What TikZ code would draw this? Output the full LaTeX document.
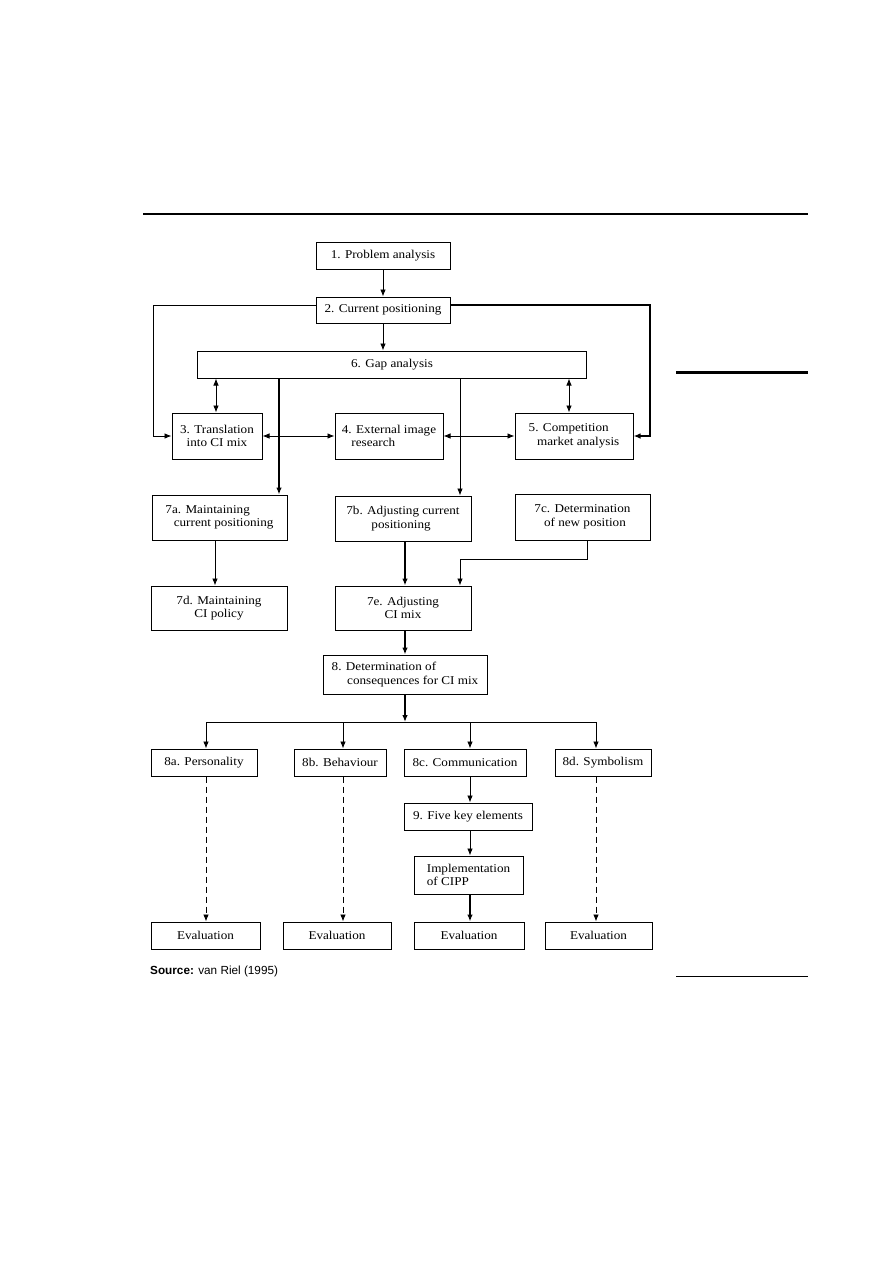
\documentclass[tikz,border=0pt]{standalone}
\usepackage{fontspec}
\setmainfont[FakeStretch=1.1]{Liberation Serif}
\newfontfamily\srcfont{Liberation Sans}
\usetikzlibrary{arrows.meta}
\begin{document}
\begin{tikzpicture}[x=1bp,y=-1bp,
 box/.style={draw, line width=1bp, inner sep=0pt, font=\fontsize{12}{13.5}\selectfont},
 arr/.style={line width=0.8bp, -{Latex[length=7bp,width=5.5bp]}},
 darr/.style={line width=0.8bp, {Latex[length=7bp,width=5.5bp]}-{Latex[length=7bp,width=5.5bp]}},
 dsh/.style={arr, dash pattern=on 6bp off 4bp},
 ln/.style={line width=0.8bp},
 thk/.style={line width=1.3bp}]
\fill[white] (0,0) rectangle (893,1263);
\useasboundingbox (0,0) rectangle (893,1263);

% page rules
\draw[line width=1.2bp] (143,214) -- (808,214);
\draw[line width=3bp] (676,372) -- (808,372);
\draw[line width=0.8bp] (676,976) -- (808,976);

% boxes
\node[box, minimum width=134bp, minimum height=27bp] (b1) at (383,255.5) {1. Problem analysis};
\node[box, minimum width=134bp, minimum height=26bp] (b2) at (383,310) {2. Current positioning};
\node[box, minimum width=388bp, minimum height=27bp] (b6) at (392,364.5) {6. Gap analysis};
\node[box, minimum width=90bp, minimum height=46bp, align=center] (b3) at (217,436) {3. Translation\\ into CI mix};
\node[box, minimum width=108bp, minimum height=46bp, align=left] (b4) at (389,436) {4. External image\\\hspace*{0.8em}research};
\node[box, minimum width=118bp, minimum height=46bp, align=left] (b5) at (574,436) {5. Competition\\\hspace*{0.7em}market analysis};
\node[box, minimum width=135bp, minimum height=45bp, align=left] (b7a) at (219.5,517.5) {7a. Maintaining\\\hspace*{0.7em}current positioning};
\node[box, minimum width=136bp, minimum height=45bp, align=left] (b7b) at (403,518.5) {7b. Adjusting current\\\hspace*{2.1em}positioning};
\node[box, minimum width=135bp, minimum height=46bp, align=left] (b7c) at (582.5,517) {7c. Determination\\\hspace*{0.8em}of new position};
\node[box, minimum width=136bp, minimum height=44bp, align=center] (b7d) at (219,608) {7d. Maintaining\\ CI policy};
\node[box, minimum width=136bp, minimum height=44bp, align=center] (b7e) at (403,608) {7e. Adjusting\\ CI mix};
\node[box, minimum width=164bp, minimum height=39bp, align=left] (b8) at (405,674.5) {8. Determination of\\\hspace*{1.3em}consequences for CI mix};
\node[box, minimum width=106bp, minimum height=27bp] (b8a) at (204,762.5) {8a. Personality};
\node[box, minimum width=92bp, minimum height=27bp] (b8b) at (340,762.5) {8b. Behaviour};
\node[box, minimum width=122bp, minimum height=27bp] (b8c) at (465,762.5) {8c. Communication};
\node[box, minimum width=96bp, minimum height=27bp] (b8d) at (603,762.5) {8d. Symbolism};
\node[box, minimum width=128bp, minimum height=27bp] (b9) at (468,816.5) {9. Five key elements};
\node[box, minimum width=109bp, minimum height=38bp, align=left] (bim) at (468.5,875) {Implementation\\of CIPP\hspace*{3.3em}};
\node[box, minimum width=109bp, minimum height=27bp] (e1) at (205.5,935.5) {Evaluation};
\node[box, minimum width=108bp, minimum height=27bp] (e2) at (337,935.5) {Evaluation};
\node[box, minimum width=110bp, minimum height=27bp] (e3) at (469,935.5) {Evaluation};
\node[box, minimum width=107bp, minimum height=27bp] (e4) at (598.5,935.5) {Evaluation};

\node[anchor=west, inner sep=0pt, font=\srcfont\fontsize{11.8}{13}\selectfont] (src) at (150,971) {\textbf{Source:} van Riel (1995)};

% column coordinates
\coordinate (xL) at (153,0);
\coordinate (xR) at (650,0);
\coordinate (x3) at (216,0);
\coordinate (x5) at (569,0);
\coordinate (x7a) at (279,0);
\coordinate (x7b) at (460,0);
\coordinate (x7d) at (215,0);
\coordinate (x7e) at (405,0);
\coordinate (x7c) at (587,0);
\coordinate (k) at (460,559);
\coordinate (fork) at (405,722);
\coordinate (fa) at (206,722);
\coordinate (fb) at (343,722);
\coordinate (fc) at (470,722);
\coordinate (fd) at (596,722);

% connectors
\draw[arr] (b1) -- (b2);
\draw[arr] (b2.south) -- (b2.south |- b6.north);
\draw[arr] ([yshift=5bp]b2.west) -| (xL |- b3) -- (b3.west);
\draw[arr, thk] ([yshift=5bp]b2.east) -| (xR |- b5) -- (b5.east);
\draw[darr] (b6.south -| x3) -- (b3.north -| x3);
\draw[darr] (b6.south -| x5) -- (b5.north -| x5);
\draw[darr] (b3.east) -- (b4.west);
\draw[darr] (b4.east) -- (b5.west);
\draw[arr, thk] (b6.south -| x7a) -- (b7a.north -| x7a);
\draw[arr] (b6.south -| x7b) -- (b7b.north -| x7b);
\draw[arr] (b7a.south -| x7d) -- (b7d.north -| x7d);
\draw[arr, thk] (b7b.south -| x7e) -- (b7e.north -| x7e);
\draw[arr] (b7c.south -| x7c) |- (k) -- (b7e.north -| k);
\draw[arr, thk] (b7e.south -| x7e) -- (b8.north -| x7e);
\draw[arr, thk] (b8.south -| fork) -- (fork);
\draw[ln] (fa) -- (fd);
\draw[arr] (fa) -- (b8a.north -| fa);
\draw[arr] (fb) -- (b8b.north -| fb);
\draw[arr] (fc) -- (b8c.north -| fc);
\draw[arr] (fd) -- (b8d.north -| fd);
\draw[arr] (b8c.south -| fc) -- (b9.north -| fc);
\draw[arr] (b9.south -| fc) -- (bim.north -| fc);
\draw[arr, thk] (bim.south -| fc) -- (e3.north -| fc);
\draw[dsh] (b8a.south -| fa) -- (e1.north -| fa);
\draw[dsh] (b8b.south -| fb) -- (e2.north -| fb);
\draw[dsh] (b8d.south -| fd) -- (e4.north -| fd);
\end{tikzpicture}
\end{document}
